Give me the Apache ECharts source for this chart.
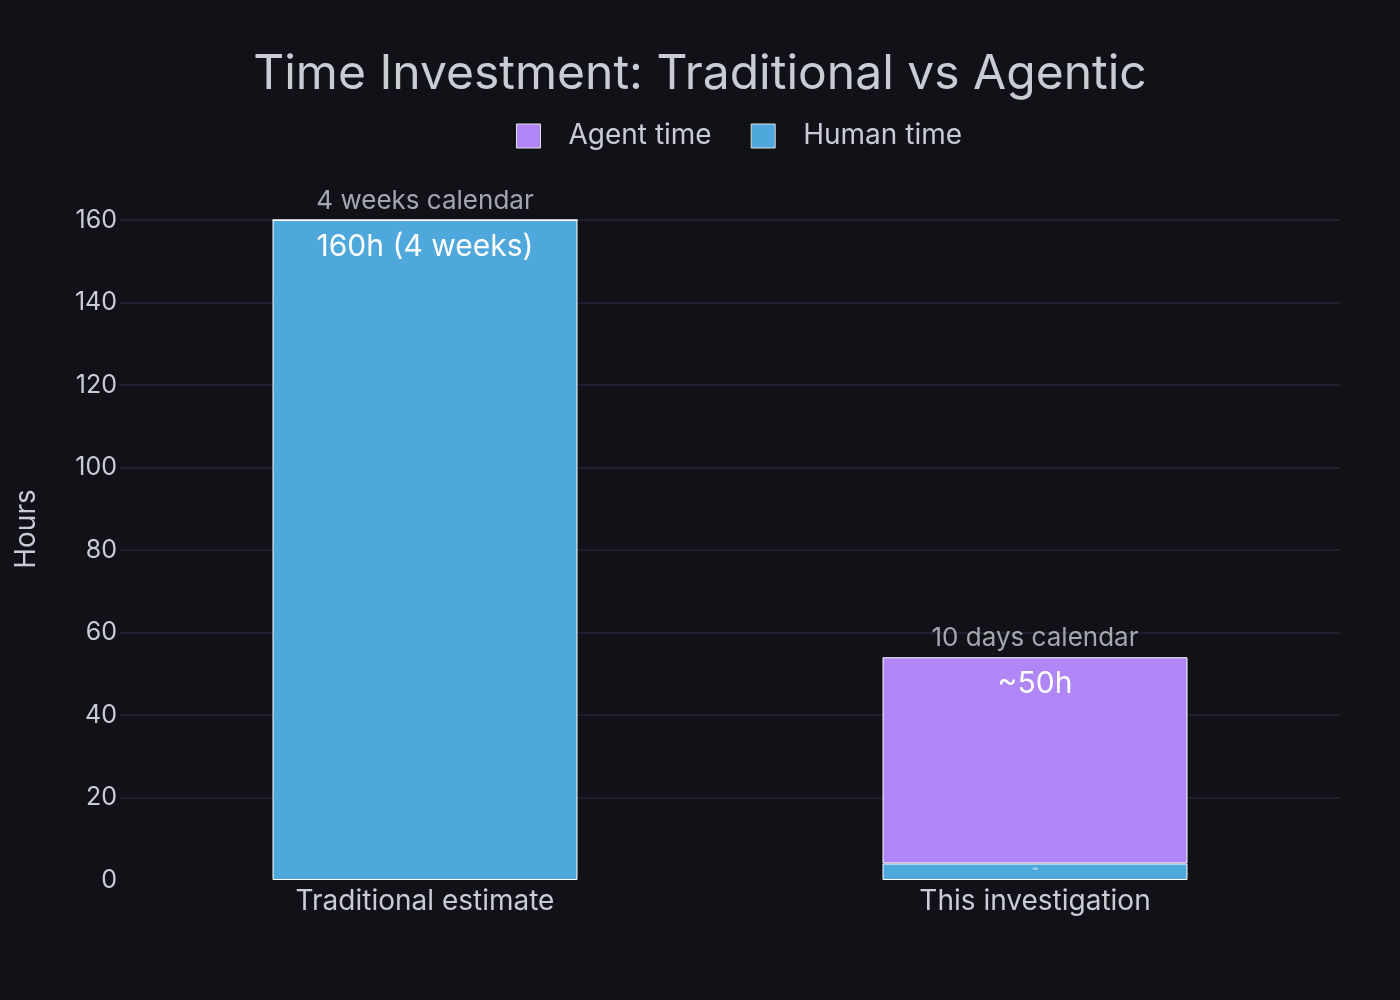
<!DOCTYPE html>
<html>
<head>
<meta charset="utf-8">
<script src="https://cdn.jsdelivr.net/npm/echarts@6/dist/echarts.min.js"></script>
<style>
html,body{margin:0;padding:0;background:#111217;}
#chart{width:1400px;height:1000px;}
</style>
</head>
<body>
<div id="chart"></div>
<script>
const categories = ['Traditional estimate', 'This investigation'];
const humanTime = [160, 4];
const agentTime = [0, 50];
const humanLabels = ['160h (4 weeks)', '~4h'];
const agentLabels = ['', '~50h'];
const calendarNotes = ['4 weeks calendar', '10 days calendar'];
const yTicks = [0, 20, 40, 60, 80, 100, 120, 140, 160];

const totals = categories.map((c, i) => humanTime[i] + agentTime[i]);
const font = 'Inter, "Noto Sans", sans-serif';
const textColor = '#c9ccd3';

const chart = echarts.init(document.getElementById('chart'));
chart.setOption({
  backgroundColor: '#111217',
  animation: false,
  title: {
    text: 'Time Investment: Traditional vs Agentic',
    left: 'center',
    top: 46,
    textStyle: {color: textColor, fontSize: 48, fontWeight: 'normal', fontFamily: font}
  },
  legend: {
    top: 117,
    left: 511,
    icon: 'rect',
    itemWidth: 24,
    itemHeight: 24,
    itemGap: 39,
    data: ['Agent time', 'Human time'],
    textStyle: {color: textColor, fontSize: 28, fontFamily: font, padding: [0, 0, 0, 23]},
    itemStyle: {borderColor: '#e0e0e0', borderWidth: 1}
  },
  grid: {left: 120, right: 60, top: 220, bottom: 120},
  xAxis: {
    type: 'category',
    data: categories,
    axisLine: {show: false},
    axisTick: {show: false},
    axisLabel: {color: textColor, fontSize: 28, fontFamily: font, margin: 8}
  },
  yAxis: {
    type: 'value',
    min: yTicks[0],
    max: yTicks[yTicks.length - 1],
    interval: 20,
    name: 'Hours',
    nameLocation: 'middle',
    nameGap: 79,
    nameRotate: 90,
    nameTextStyle: {color: textColor, fontSize: 28, fontFamily: font, padding: [0, 0, 0, 42]},
    axisLine: {show: false},
    axisTick: {show: false},
    axisLabel: {color: textColor, fontSize: 25, fontFamily: font, margin: 3, padding: [3, 0, 0, 0]},
    splitLine: {showMinLine: false, lineStyle: {color: '#24253a', width: 1.5}}
  },
  series: [
    {
      name: 'Human time',
      type: 'bar',
      stack: 'total',
      barWidth: '50%',
      data: humanTime.map((v, i) => ({
        value: v,
        label: {
          show: true,
          position: 'insideTop',
          distance: i === 0 ? 12 : 4,
          formatter: humanLabels[i],
          color: '#ffffff',
          fontSize: i === 0 ? 30 : 3,
          fontFamily: font
        }
      })),
      itemStyle: {color: '#4fa8dc', borderColor: '#ffffff', borderWidth: 1}
    },
    {
      name: 'Agent time',
      type: 'bar',
      stack: 'total',
      barWidth: '50%',
      data: agentTime.map((v, i) => ({
        value: v,
        label: {
          show: v > 0,
          position: 'insideTop',
          distance: 12,
          formatter: agentLabels[i],
          color: '#ffffff',
          fontSize: 30,
          fontFamily: font
        }
      })),
      itemStyle: {color: '#b085f5', borderColor: '#ffffff', borderWidth: 1}
    },
    {
      name: 'notes',
      type: 'scatter',
      symbolSize: 0,
      silent: true,
      data: totals.map((t, i) => [categories[i], t]),
      label: {
        show: true,
        position: 'top',
        distance: 6,
        formatter: p => calendarNotes[p.dataIndex],
        color: textColor,
        fontSize: 26,
        fontFamily: font
      },
      z: 5
    }
  ]
});
</script>
</body>
</html>
